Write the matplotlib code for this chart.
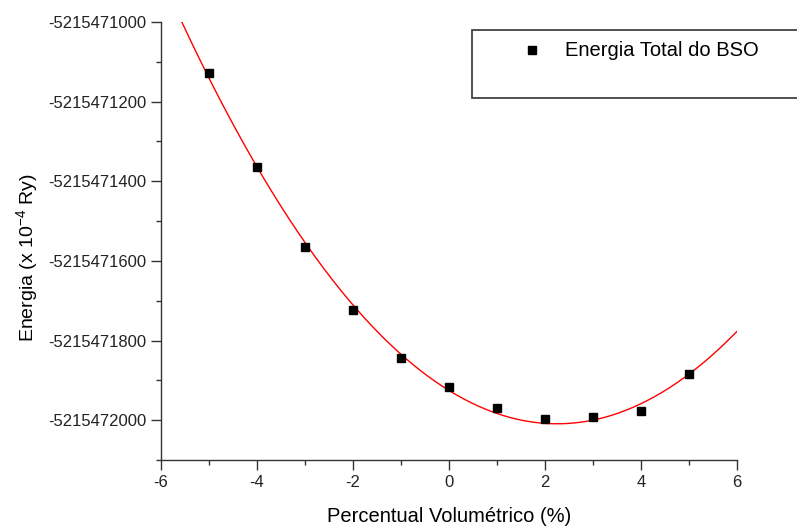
import numpy as np
import matplotlib.pyplot as plt
from matplotlib.ticker import MultipleLocator, FuncFormatter
from matplotlib.patches import Rectangle
from matplotlib.lines import Line2D

# dados
percentual = [-5, -4, -3, -2, -1, 0, 1, 2, 3, 4, 5]
energia = [-5215471128, -5215471365, -5215471565, -5215471724, -5215471845,
           -5215471916, -5215471970, -5215471998, -5215471992, -5215471977,
           -5215471883]

plt.rcParams['font.family'] = ['Liberation Sans', 'DejaVu Sans']
plt.rcParams['mathtext.fontset'] = 'custom'
plt.rcParams['mathtext.rm'] = 'Liberation Sans'
plt.rcParams['mathtext.it'] = 'Liberation Sans'

fig = plt.figure(figsize=(7.97, 5.27), dpi=100)
ax = fig.add_axes([161/797, 1 - 460/527, 576/797, 438/527])

# ajuste polinomial (como no Origin)
base = energia[0]
coef = np.polyfit(percentual, np.array(energia) - base, 2)
xf = np.linspace(-6, 6, 400)
ax.plot(xf, np.polyval(coef, xf) + base, color='red', lw=1.0)

ax.plot(percentual, energia, 's', color='black', markersize=6.3, linestyle='none')

ax.set_xlim(-6, 6)
ax.set_ylim(-5215472100, -5215471000)
ax.xaxis.set_major_locator(MultipleLocator(2))
ax.xaxis.set_minor_locator(MultipleLocator(1))
ax.yaxis.set_major_locator(MultipleLocator(200))
ax.yaxis.set_minor_locator(MultipleLocator(100))
ax.yaxis.set_major_formatter(FuncFormatter(lambda v, p: '%d' % round(v)))
ax.xaxis.set_major_formatter(FuncFormatter(lambda v, p: '%d' % round(v)))

for s in ['top', 'right']:
    ax.spines[s].set_visible(False)
for s in ['left', 'bottom']:
    ax.spines[s].set_color('#333333')
    ax.spines[s].set_linewidth(1.0)

ax.tick_params(which='major', direction='out', length=7, width=1, color='#333333',
               labelsize=12, pad=3.5, labelcolor='#222222')
ax.tick_params(which='minor', direction='out', length=3.5, width=1, color='#333333')

ax.set_xlabel('Percentual Volumétrico (%)', fontsize=14.5)
ax.set_ylabel('Energia (x 10$^{-4}$ Ry)', fontsize=14)
ax.xaxis.set_label_coords(0.5, -0.108)
ax.yaxis.set_label_coords(-0.21, 0.463)

# legenda desenhada a mao (caixa do Origin)
fig.add_artist(Rectangle((472/797, 1 - 98/527), 330/797, 68/527, transform=fig.transFigure,
                         facecolor='white', edgecolor='#333333', lw=1.2))
fig.add_artist(Line2D([532/797], [1 - 50/527], transform=fig.transFigure, marker='s',
                      color='black', markersize=6.3, linestyle='none'))
fig.text(565/797, 1 - 50/527, 'Energia Total do BSO', fontsize=14.5, va='center', ha='left')

plt.savefig('out.png', dpi=100)
